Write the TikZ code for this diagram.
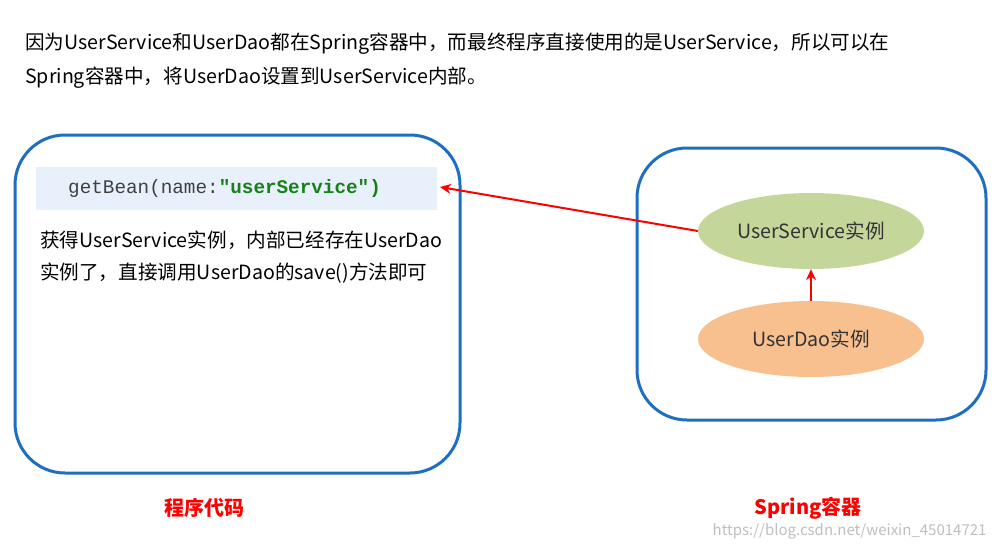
\documentclass[tikz,border=0pt]{standalone}
\usepackage{fontspec}
\setmainfont{Noto Sans CJK SC}
\newfontfamily\cjk{Noto Sans CJK SC}
\newfontfamily\mono{Liberation Mono}
\usetikzlibrary{shapes.geometric,arrows.meta}
\definecolor{boxblue}{HTML}{1E6FC0}
\definecolor{codebg}{HTML}{E8F0FB}
\definecolor{codegreen}{HTML}{188018}
\definecolor{ellgreen}{HTML}{C5D69B}
\definecolor{ellorange}{HTML}{F9C08F}
\tikzset{
  box/.style={draw=boxblue,line width=3pt,rounded corners=50pt},
  txt/.style={anchor=west,inner sep=0pt,font=\fontsize{19.6}{23}\selectfont},
  ell/.style={ellipse,minimum width=226pt,minimum height=76pt,inner sep=0pt,font=\fontsize{19.6}{23}\selectfont,text=black!80},
  conn/.style={draw=red,line width=2pt,-{Stealth[length=11pt,width=10pt]}},
  lbl/.style={text=red,font=\bfseries\fontsize{20}{24}\selectfont}
}
\begin{document}
\begin{tikzpicture}[x=1pt,y=-1pt]
\useasboundingbox[fill=white] (0,0) rectangle (997,549);
\node[txt] (t1) at (25,44) {因为UserService和UserDao都在Spring容器中，而最终程序直接使用的是UserService，所以可以在};
\node[txt] (t2) at (25,78) {Spring容器中，将UserDao设置到UserService内部。};
\draw[box] (15,135) rectangle (460,473);
\fill[codebg] (36,167) rectangle (437,210);
\node[txt,text=black!75,font=\mono\fontsize{19.3}{23}\selectfont] (code) at (68,189) {getBean(name:\textcolor{codegreen}{\bfseries"userService")}};
\coordinate (codeend) at (440,187);
\node[txt] (d1) at (40,240) {获得UserService实例，内部已经存在UserDao};
\node[txt] (d2) at (40,273) {实例了，直接调用UserDao的save()方法即可};
\draw[box] (637,148) rectangle (986,420);
\node[ell,fill=ellgreen] (us) at (811,231) {UserService实例};
\node[ell,fill=ellorange] (ud) at (811,339) {UserDao实例};
\draw[conn] (us.west) -- (codeend);
\draw[conn] (ud.north) -- (us.south);
\node[lbl] (l1) at (204,508) {程序代码};
\node[lbl] (l2) at (808,508) {Spring容器};
\node[anchor=east,text=gray!50,font=\fontsize{15}{18}\selectfont] (wm) at (990,531) {https://blog.csdn.net/weixin\_45014721};
\end{tikzpicture}
\end{document}
